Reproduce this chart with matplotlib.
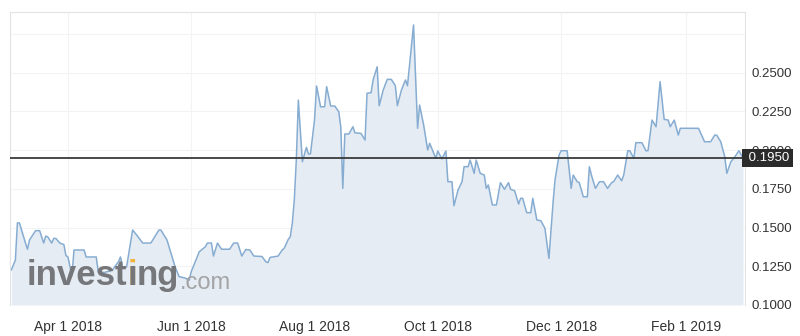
import matplotlib
matplotlib.use('Agg')
import matplotlib.pyplot as plt
import matplotlib.dates as mdates
import matplotlib.transforms as mtransforms
import pandas as pd

plt.rcParams['font.family'] = ['Liberation Sans', 'DejaVu Sans']

# price history (date, close)
dates = [
    '2018-03-04', '2018-03-06', '2018-03-07', '2018-03-08', '2018-03-11', '2018-03-12',
    '2018-03-13', '2018-03-16', '2018-03-18', '2018-03-20', '2018-03-21', '2018-03-22',
    '2018-03-24', '2018-03-25', '2018-03-26', '2018-03-28', '2018-03-30', '2018-03-31',
    '2018-04-01', '2018-04-03', '2018-04-04', '2018-04-06', '2018-04-09', '2018-04-10',
    '2018-04-15', '2018-04-16', '2018-04-19', '2018-04-23', '2018-04-26', '2018-04-27',
    '2018-04-28', '2018-04-30', '2018-05-03', '2018-05-05', '2018-05-08', '2018-05-12',
    '2018-05-13', '2018-05-16', '2018-05-17', '2018-05-20', '2018-05-22', '2018-05-24',
    '2018-05-26', '2018-05-29', '2018-05-31', '2018-06-01', '2018-06-05', '2018-06-08',
    '2018-06-09', '2018-06-11', '2018-06-12', '2018-06-14', '2018-06-16', '2018-06-20',
    '2018-06-22', '2018-06-24', '2018-06-26', '2018-06-28', '2018-06-30', '2018-07-02',
    '2018-07-06', '2018-07-08', '2018-07-09', '2018-07-10', '2018-07-14', '2018-07-16',
    '2018-07-17', '2018-07-19', '2018-07-20', '2018-07-21', '2018-07-22', '2018-07-23',
    '2018-07-24', '2018-07-26', '2018-07-28', '2018-07-29', '2018-07-30', '2018-08-01',
    '2018-08-02', '2018-08-04', '2018-08-06', '2018-08-07', '2018-08-09', '2018-08-11',
    '2018-08-13', '2018-08-14', '2018-08-15', '2018-08-16', '2018-08-18', '2018-08-20',
    '2018-08-21', '2018-08-24', '2018-08-26', '2018-08-27', '2018-08-29', '2018-08-30',
    '2018-09-01', '2018-09-02', '2018-09-04', '2018-09-06', '2018-09-08', '2018-09-10',
    '2018-09-11', '2018-09-13', '2018-09-15', '2018-09-16', '2018-09-18', '2018-09-19',
    '2018-09-21', '2018-09-22', '2018-09-24', '2018-09-26', '2018-09-27', '2018-09-30',
    '2018-10-01', '2018-10-03', '2018-10-05', '2018-10-06', '2018-10-08', '2018-10-09',
    '2018-10-11', '2018-10-13', '2018-10-14', '2018-10-16', '2018-10-17', '2018-10-19',
    '2018-10-20', '2018-10-22', '2018-10-24', '2018-10-25', '2018-10-26', '2018-10-28',
    '2018-10-30', '2018-11-01', '2018-11-03', '2018-11-05', '2018-11-06', '2018-11-08',
    '2018-11-10', '2018-11-11', '2018-11-12', '2018-11-14', '2018-11-16', '2018-11-17',
    '2018-11-19', '2018-11-21', '2018-11-23', '2018-11-25', '2018-11-27', '2018-11-28',
    '2018-11-30', '2018-12-01', '2018-12-04', '2018-12-06', '2018-12-07', '2018-12-09',
    '2018-12-10', '2018-12-12', '2018-12-14', '2018-12-15', '2018-12-16', '2018-12-18',
    '2018-12-20', '2018-12-22', '2018-12-24', '2018-12-26', '2018-12-27', '2018-12-29',
    '2018-12-31', '2019-01-01', '2019-01-03', '2019-01-04', '2019-01-06', '2019-01-07',
    '2019-01-10', '2019-01-12', '2019-01-13', '2019-01-15', '2019-01-17', '2019-01-19',
    '2019-01-21', '2019-01-23', '2019-01-24', '2019-01-26', '2019-01-28', '2019-01-29',
    '2019-02-07', '2019-02-10', '2019-02-13', '2019-02-15', '2019-02-16', '2019-02-18',
    '2019-02-20', '2019-02-21', '2019-02-23', '2019-02-25', '2019-02-27', '2019-03-01',
]
prices = [
    0.1226, 0.1290, 0.1530, 0.1530, 0.1400, 0.1360,
    0.1420, 0.1480, 0.1480, 0.1400, 0.1445, 0.1440,
    0.1400, 0.1430, 0.1430, 0.1400, 0.1390, 0.1320,
    0.1310, 0.1190, 0.1355, 0.1355, 0.1355, 0.1310,
    0.1310, 0.1215, 0.1210, 0.1225, 0.1280, 0.1310,
    0.1245, 0.1245, 0.1484, 0.1452, 0.1400, 0.1400,
    0.1420, 0.1484, 0.1484, 0.1420, 0.1334, 0.1247,
    0.1183, 0.1174, 0.1160, 0.1215, 0.1344, 0.1376,
    0.1400, 0.1400, 0.1316, 0.1400, 0.1360, 0.1360,
    0.1400, 0.1400, 0.1316, 0.1358, 0.1355, 0.1316,
    0.1313, 0.1278, 0.1274, 0.1307, 0.1316, 0.1355,
    0.1366, 0.1423, 0.1441, 0.1527, 0.1678, 0.1936,
    0.2323, 0.1925, 0.2018, 0.1975, 0.1975, 0.2194,
    0.2414, 0.2280, 0.2280, 0.2410, 0.2285, 0.2285,
    0.2248, 0.2151, 0.1753, 0.2104, 0.2104, 0.2151,
    0.2112, 0.2108, 0.2065, 0.2367, 0.2371, 0.2453,
    0.2538, 0.2287, 0.2388, 0.2457, 0.2457, 0.2416,
    0.2287, 0.2388, 0.2453, 0.2416, 0.2679, 0.2808,
    0.2141, 0.2291, 0.2162, 0.2001, 0.2044, 0.1947,
    0.1994, 0.1943, 0.1994, 0.1796, 0.1796, 0.1641,
    0.1742, 0.1796, 0.1893, 0.1893, 0.1936, 0.1850,
    0.1936, 0.1850, 0.1839, 0.1753, 0.1775, 0.1646,
    0.1646, 0.1790, 0.1747, 0.1790, 0.1747, 0.1738,
    0.1652, 0.1689, 0.1689, 0.1596, 0.1596, 0.1689,
    0.1549, 0.1544, 0.1495, 0.1301, 0.1657, 0.1807,
    0.1968, 0.1996, 0.1996, 0.1753, 0.1839, 0.1796,
    0.1790, 0.1699, 0.1699, 0.1893, 0.1839, 0.1753,
    0.1796, 0.1796, 0.1753, 0.1790, 0.1796, 0.1839,
    0.1802, 0.1839, 0.1996, 0.1996, 0.1947, 0.2048,
    0.2048, 0.1996, 0.1996, 0.2194, 0.2151, 0.2442,
    0.2199, 0.2194, 0.2151, 0.2194, 0.2097, 0.2141,
    0.2141, 0.2054, 0.2054, 0.2097, 0.2097, 0.2054,
    0.1957, 0.1850, 0.1925, 0.1957, 0.1996, 0.1950,
]

last_price = 0.1950
y_ticks = [0.100, 0.125, 0.150, 0.175, 0.200, 0.225, 0.250, 0.275]
y_labels = ['0.1000', '0.1250', '0.1500', '0.1750', '0.2000', '0.2250', '0.2500', '']

x = pd.to_datetime(dates)
ymin, ymax = 0.1, 0.2892

fig = plt.figure(figsize=(8, 3.36), dpi=100)
ax = fig.add_axes([0.0125, 0.0923, 0.91875, 0.872])

ax.fill_between(x, prices, ymin, color='#e5ecf3', lw=0, zorder=1)
ax.plot(x, prices, color='#86acd1', lw=1.1, zorder=2)
ax.axhline(last_price, color='#3a3a3a', lw=1.3, zorder=3)

ax.set_xlim(pd.Timestamp('2018-03-03 08:00'), pd.Timestamp('2019-03-02'))
ax.set_ylim(ymin, ymax)

ax.xaxis.set_major_locator(mdates.MonthLocator(bymonth=[2, 4, 6, 8, 10, 12]))
ax.xaxis.set_major_formatter(mdates.DateFormatter('%b %-d %Y'))
ax.set_yticks(y_ticks)
ax.set_yticklabels(y_labels)
ax.yaxis.tick_right()
ax.tick_params(axis='x', length=0, pad=11, labelsize=10, labelcolor='#333333')
ax.tick_params(axis='y', length=0, pad=5, labelsize=9.5, labelcolor='#333333')
ax.grid(True, color='#f3f3f3', lw=0.8, zorder=0)
ax.set_axisbelow(True)

for side in ['left', 'top', 'right']:
    ax.spines[side].set_color('#e3e3e3')
    ax.spines[side].set_linewidth(0.8)
ax.spines['bottom'].set_visible(False)

# current price tag on the right axis
trans = mtransforms.blended_transform_factory(ax.transAxes, ax.transData)
ax.text(1.0, last_price, ' %.4f' % last_price, transform=trans, ha='left', va='center',
        fontsize=9.5, color='white', zorder=6, clip_on=False,
        bbox=dict(boxstyle='square,pad=0.25', fc='#2b2b2b', ec='none'))

# investing.com watermark
gray = '#76777a'
t1 = ax.text(0.023, 0.068, 'invest', transform=ax.transAxes, fontsize=25,
             fontweight='bold', color=gray, va='baseline', zorder=4)
t2 = ax.annotate('i', xy=(1, 0), xycoords=t1, va='bottom', fontsize=25,
                 fontweight='bold', color='#f1b53c', zorder=4)
ax.annotate('\u0131', xy=(1, 0), xycoords=t1, va='bottom', fontsize=25,
            fontweight='bold', color=gray, zorder=5)
t3 = ax.annotate('ng', xy=(1, 0), xycoords=t2, va='bottom', fontsize=25,
                 fontweight='bold', color=gray, zorder=4)
ax.annotate('.com', xy=(1, 0), xycoords=t3, xytext=(0, -1.7), textcoords='offset points',
            va='bottom', fontsize=17, color='#a3a4a6', zorder=4)

fig.savefig('out.png', dpi=100, facecolor='white')
